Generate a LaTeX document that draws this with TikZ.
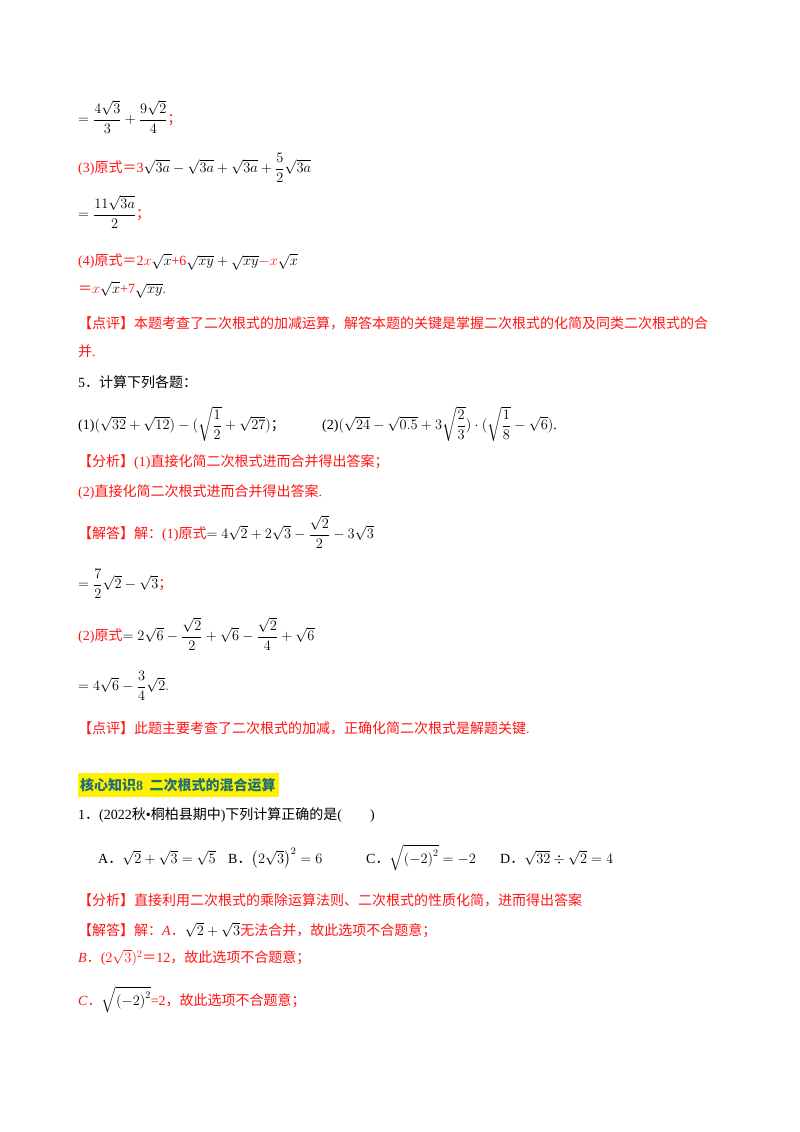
\documentclass[tikz,border=0pt]{standalone}
\usepackage{amsmath}
\usepackage{fontspec}
\setmainfont{Liberation Serif}
\newfontfamily\cjk{Noto Sans CJK SC}
\definecolor{rd}{RGB}{255,20,20}
\definecolor{hd}{RGB}{30,110,120}
\newcommand{\R}[1]{\textcolor{rd}{#1}}
\newcommand{\C}[1]{{\cjk #1}}
\newcommand{\Dt}{{\cjk ．}}
\newcommand{\Eq}{{\cjk ＝}}
\begin{document}
\begin{tikzpicture}[x=1pt,y=-1pt,every node/.style={anchor=west,inner sep=0pt,font=\fontsize{14}{16}\selectfont}]
\useasboundingbox (0,0) rectangle (800,1132);
\fill[white] (0,0) rectangle (800,1132);
\node (l1) at (78,117) {$=\dfrac{4\sqrt3}{3}+\dfrac{9\sqrt2}{4}$\R{\C{；}}};
\node (l2) at (78,168) {\R{(3)\C{原式}\Eq 3}$\sqrt{3a}-\sqrt{3a}+\sqrt{3a}+\dfrac52\sqrt{3a}$};
\node (l3) at (78,212) {$=\dfrac{11\sqrt{3a}}{2}$\R{\C{；}}};
\node (l4) at (78,262) {\R{(4)\C{原式}\Eq 2$x$}$\sqrt{x}$\R{+6}$\sqrt{xy}+\sqrt{xy}$\R{$-x$}$\sqrt{x}$};
\node (l5) at (78,290) {\R{\Eq$x$}$\sqrt{x}$\R{+7}$\sqrt{xy}$\R{.}};
\node (l6) at (78,323) {\R{\C{【点评】本题考查了二次根式的加减运算，解答本题的关键是掌握二次根式的化简及同类二次根式的合}}};
\node (l7) at (78,351) {\R{\C{并}.}};
\node (l8) at (78,382) {5\Dt\C{计算下列各题：}};
\node (l9) at (78,424) {(1)$(\sqrt{32}+\sqrt{12})-(\sqrt{\dfrac12}+\sqrt{27})$\C{；}};
\node (l10) at (322,424) {(2)$(\sqrt{24}-\sqrt{0.5}+3\sqrt{\dfrac23})\cdot(\sqrt{\dfrac18}-\sqrt6)$.};
\node (l11) at (78,462) {\R{\C{【分析】}(1)\C{直接化简二次根式进而合并得出答案；}}};
\node (l12) at (78,492) {\R{(2)\C{直接化简二次根式进而合并得出答案}.}};
\node (l13) at (78,532) {\R{\C{【解答】解：}(1)\C{原式}}$=4\sqrt2+2\sqrt3-\dfrac{\sqrt2}{2}-3\sqrt3$};
\node (l14) at (78,584) {$=\dfrac72\sqrt2-\sqrt3$\R{\C{；}}};
\node (l15) at (78,634) {\R{(2)\C{原式}}$=2\sqrt6-\dfrac{\sqrt2}{2}+\sqrt6-\dfrac{\sqrt2}{4}+\sqrt6$};
\node (l16) at (78,686) {$=4\sqrt6-\dfrac34\sqrt2$\R{.}};
\node (l17) at (78,728) {\R{\C{【点评】此题主要考查了二次根式的加减，正确化简二次根式是解题关键}.}};
\fill[yellow] (78,773) rectangle (279,797);
\node (h) at (80,785) {\textcolor{hd}{\cjk\bfseries 核心知识\textrm{\bfseries 8}\ \ 二次根式的混合运算}};
\node (q1) at (78,815) {1\Dt(2022\C{秋}•\C{桐柏县期中})\C{下列计算正确的是}(\hspace{2em})};
\node (oa) at (98,858) {A\Dt$\sqrt2+\sqrt3=\sqrt5$};
\node (ob) at (228,858) {B\Dt$\left(2\sqrt3\right)^2=6$};
\node (oc) at (366,858) {C\Dt$\sqrt{\left(-2\right)^2}=-2$};
\node (od) at (500,858) {D\Dt$\sqrt{32}\div\sqrt2=4$};
\node (a1) at (78,900) {\R{\C{【分析】直接利用二次根式的乘除运算法则、二次根式的性质化简，进而得出答案}}};
\node (a2) at (78,930) {\R{\C{【解答】解：}\textit{A}\Dt}$\sqrt2+\sqrt3$\R{\C{无法合并，故此选项不合题意；}}};
\node (a3) at (78,958) {\R{\textit{B}\Dt($2\sqrt3)^2$\Eq 12\C{，故此选项不合题意；}}};
\node (a4) at (78,1000) {\R{\textit{C}\Dt}$\sqrt{\left(-2\right)^2}$\R{=2\C{，故此选项不合题意；}}};
\end{tikzpicture}
\end{document}
